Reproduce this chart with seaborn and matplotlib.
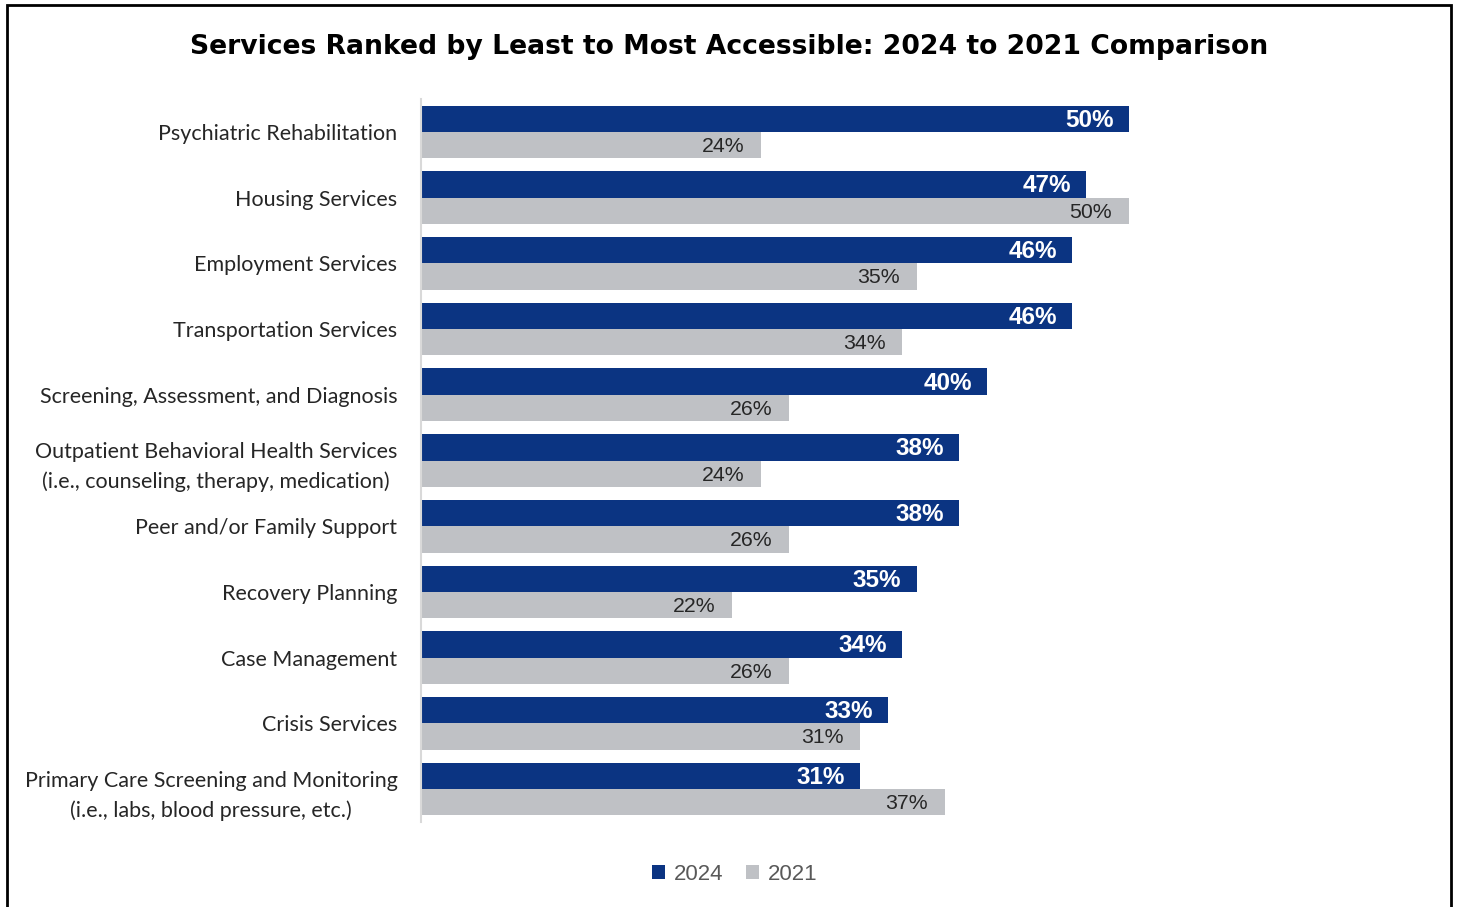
import matplotlib
matplotlib.use("Agg")
import matplotlib.pyplot as plt
import seaborn as sns
import pandas as pd
from matplotlib.patches import Rectangle, Patch

services = [
    "Psychiatric Rehabilitation",
    "Housing Services",
    "Employment Services",
    "Transportation Services",
    "Screening, Assessment, and Diagnosis",
    "Outpatient Behavioral Health Services\n(i.e., counseling, therapy, medication)",
    "Peer and/or Family Support",
    "Recovery Planning",
    "Case Management",
    "Crisis Services",
    "Primary Care Screening and Monitoring\n(i.e., labs, blood pressure, etc.)",
]
pct_2024 = [50, 47, 46, 46, 40, 38, 38, 35, 34, 33, 31]
pct_2021 = [24, 50, 35, 34, 26, 24, 26, 22, 26, 31, 37]
years = ["2024", "2021"]
colors = {"2024": "#0B3482", "2021": "#BFC1C5"}

df = pd.DataFrame({
    "service": services * 2,
    "year": [years[0]] * len(services) + [years[1]] * len(services),
    "pct": pct_2024 + pct_2021,
})

sns.set_theme(style="white")
plt.rcParams["font.family"] = ["Lato", "DejaVu Sans"]

fig = plt.figure(figsize=(14.58, 9.07), dpi=100)
ax = fig.add_axes([421 / 1458, 1 - 822 / 907, 991 / 1458, 723 / 907])

sns.barplot(data=df, y="service", x="pct", hue="year", hue_order=years,
            palette=colors, orient="h", width=0.8, ax=ax, legend=False,
            saturation=1, edgecolor="none")

ax.set_xlim(0, 70)
ax.set_xlabel("")
ax.set_ylabel("")
ax.set_xticks([])
for side in ["top", "right", "bottom"]:
    ax.spines[side].set_visible(False)
ax.spines["left"].set_color("#D9D9D9")
ax.spines["left"].set_linewidth(1.5)
ax.tick_params(axis="y", length=0, pad=17)
for lbl in ax.get_yticklabels():
    lbl.set_fontsize(15.5)
    lbl.set_color("#262626")
    lbl.set_multialignment("center")
    lbl.set_linespacing(1.55)

# value labels inside the bar ends
for container, year in zip(ax.containers, years):
    for patch in container:
        w = patch.get_width()
        yc = patch.get_y() + patch.get_height() / 2
        if year == "2024":
            ax.annotate(f"{w:.0f}%", (w, yc), xytext=(-11, -1),
                        textcoords="offset points", ha="right", va="center",
                        color="white", fontsize=17.5, fontweight="bold",
                        family="Liberation Sans")
        else:
            ax.annotate(f"{w:.0f}%", (w, yc), xytext=(-12, -1),
                        textcoords="offset points", ha="right", va="center",
                        color="#262626", fontsize=15.3, family="Liberation Sans")

fig.text(0.5, 1 - 47 / 907, "Services Ranked by Least to Most Accessible: 2024 to 2021 Comparison",
         ha="center", va="center", fontsize=19.2, fontweight="heavy", color="black",
         family="DejaVu Sans")

handles = [Patch(facecolor=colors[y], edgecolor="none", label=y) for y in years]
leg = fig.legend(handles=handles, loc="center", bbox_to_anchor=(735 / 1458, 1 - 874 / 907),
                 ncol=2, frameon=False, handlelength=0.6, handleheight=0.6,
                 handletextpad=0.4, columnspacing=1.0,
                 prop={"family": "Liberation Sans", "size": 16})
for t in leg.get_texts():
    t.set_color("#595959")

# outer frame
fig.patches.append(Rectangle((7 / 1458, -0.05), (1451 - 7) / 1458, 1.05 - 5 / 907,
                             transform=fig.transFigure, fill=False,
                             edgecolor="black", linewidth=2))

fig.savefig("out.png", dpi=100)
